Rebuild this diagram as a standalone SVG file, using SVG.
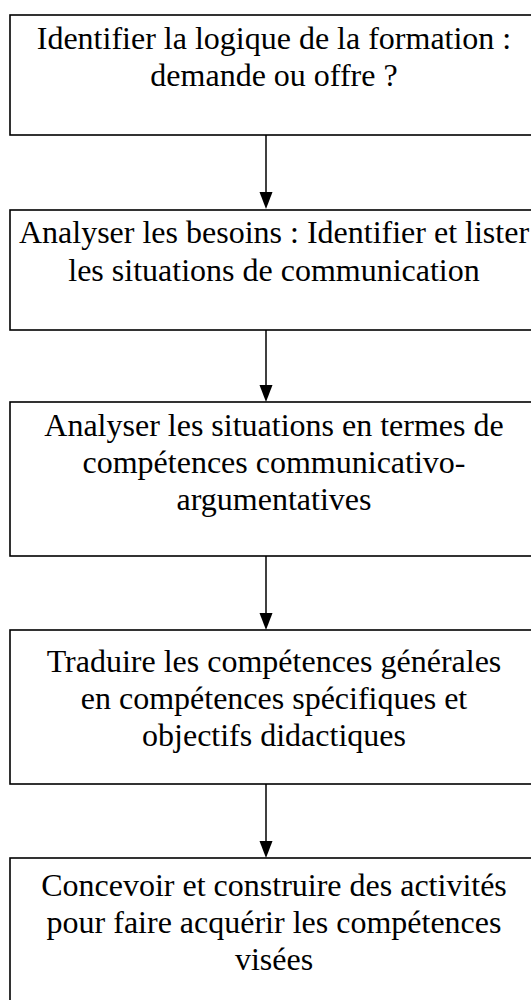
<svg xmlns="http://www.w3.org/2000/svg" width="531" height="1000" viewBox="0 0 531 1000">
<style>
.box{fill:#fff;stroke:#000;stroke-width:1.6}
.t{font-family:"Liberation Serif","Times New Roman",serif;font-size:32px;fill:#000;text-anchor:middle}
.c{stroke:#000;stroke-width:1.5;fill:none}
.h{fill:#000}
</style>
<rect width="531" height="1000" fill="#fff"/>
<g id="n1"><rect class="box" x="10" y="15" width="528" height="120"/>
<text class="t"><tspan x="274" y="49">Identifier la logique de la formation :</tspan><tspan x="274" y="86">demande ou offre ?</tspan></text></g>
<g id="n2"><rect class="box" x="10" y="210" width="528" height="120"/>
<text class="t"><tspan x="274" y="243">Analyser les besoins : Identifier et lister</tspan><tspan x="274" y="281">les situations de communication</tspan></text></g>
<g id="n3"><rect class="box" x="10" y="402" width="528" height="154"/>
<text class="t"><tspan x="274" y="436">Analyser les situations en termes de</tspan><tspan x="274" y="473">compétences communicativo-</tspan><tspan x="274" y="510">argumentatives</tspan></text></g>
<g id="n4"><rect class="box" x="10" y="630" width="528" height="154"/>
<text class="t"><tspan x="274" y="672">Traduire les compétences générales</tspan><tspan x="274" y="709">en compétences spécifiques et</tspan><tspan x="274" y="746">objectifs didactiques</tspan></text></g>
<g id="n5"><rect class="box" x="10" y="858" width="528" height="160"/>
<text class="t"><tspan x="274" y="896">Concevoir et construire des activités</tspan><tspan x="274" y="933">pour faire acquérir les compétences</tspan><tspan x="274" y="970">visées</tspan></text></g>
<g id="connectors">
<line class="c" x1="266" y1="135" x2="266" y2="194"/><polygon class="h" points="259.5,192 272.5,192 266,209"/>
<line class="c" x1="266" y1="330" x2="266" y2="387"/><polygon class="h" points="259.5,385 272.5,385 266,402"/>
<line class="c" x1="266" y1="556" x2="266" y2="615"/><polygon class="h" points="259.5,613 272.5,613 266,630"/>
<line class="c" x1="266" y1="784" x2="266" y2="843"/><polygon class="h" points="259.5,841 272.5,841 266,858"/>
</g>
</svg>
